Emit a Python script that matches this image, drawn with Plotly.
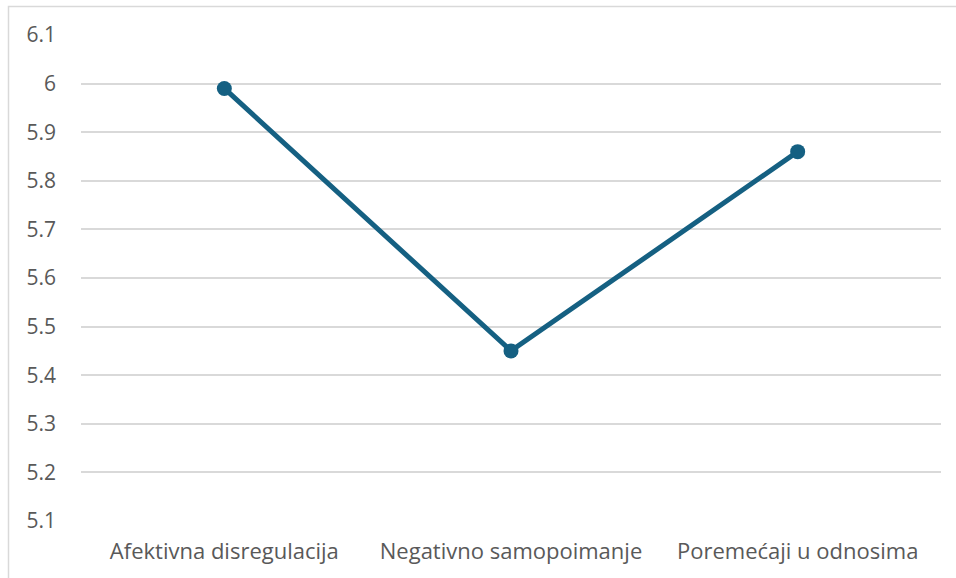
import plotly.graph_objects as go

categories = ["Afektivna disregulacija", "Negativno samopoimanje", "Poremećaji u odnosima"]
values = [5.99, 5.45, 5.86]
y_ticks = [5.1, 5.2, 5.3, 5.4, 5.5, 5.6, 5.7, 5.8, 5.9, 6.0, 6.1]
y_tick_labels = ["5.1", "5.2", "5.3", "5.4", "5.5", "5.6", "5.7", "5.8", "5.9", "6", "6.1"]

W, H = 956, 578
L, R, T, B = 81, 15, 35, 57
pw, ph = W - L - R, H - T - B

fig = go.Figure()
fig.add_trace(go.Scatter(
    x=categories, y=values, mode="lines+markers",
    line=dict(color="#156082", width=5),
    marker=dict(color="#156082", size=15),
    showlegend=False, cliponaxis=False,
))

fig.update_layout(
    width=W, height=H,
    margin=dict(l=L, r=R, t=T, b=B, autoexpand=False),
    paper_bgcolor="white", plot_bgcolor="white",
    font=dict(family="Open Sans, Roboto, sans-serif", size=22, color="#595959"),
    xaxis=dict(
        type="category", range=[-0.5, 2.5], showgrid=False, zeroline=False,
        showline=False, ticks="", ticklabelstandoff=15,
        tickfont=dict(size=22, color="#595959"),
    ),
    yaxis=dict(
        range=[5.1, 6.1], tickvals=y_ticks, ticktext=y_tick_labels,
        showgrid=True, gridcolor="#d9d9d9", gridwidth=1.5, zeroline=False,
        showline=False, ticks="", ticklabelstandoff=24,
        tickfont=dict(size=21, color="#595959"),
    ),
    shapes=[dict(
        type="rect", xref="paper", yref="paper",
        x0=(8.5 - L) / pw, x1=(W + 20 - L) / pw,
        y0=(H - B - (H + 20)) / ph, y1=(H - B - 6.5) / ph,
        line=dict(color="#d9d9d9", width=1.5), fillcolor="rgba(0,0,0,0)",
        layer="below",
    )],
)

fig.write_html(
    "out.html",
    config={"displayModeBar": False},
    post_script="document.body.style.margin='0';document.body.style.overflow='hidden';",
)
